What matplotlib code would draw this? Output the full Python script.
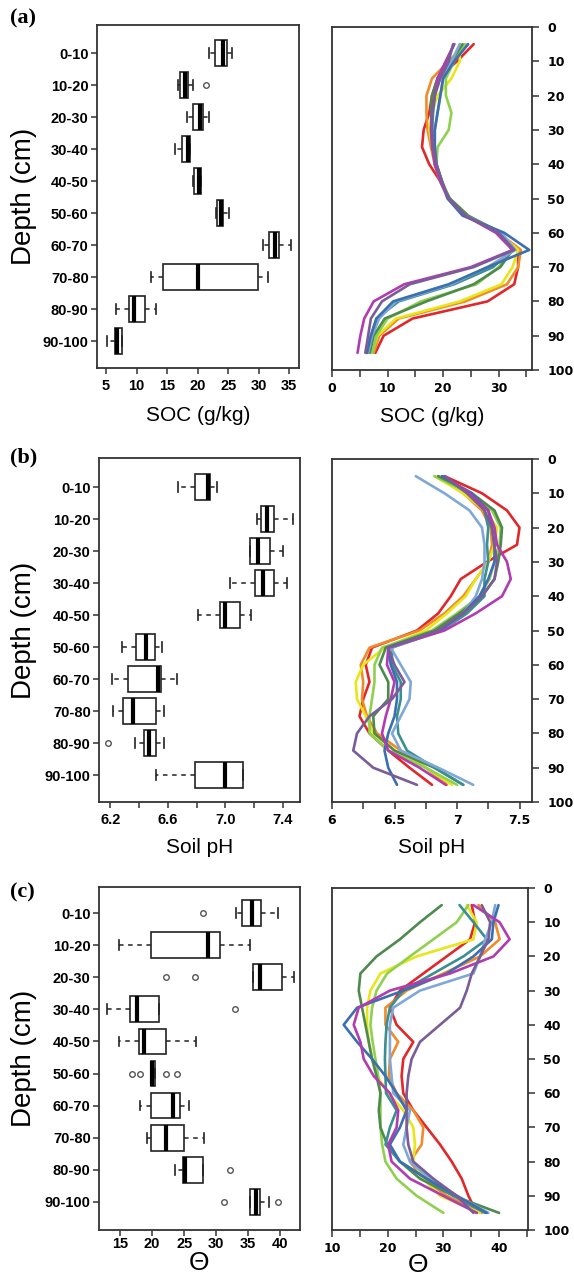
import matplotlib
matplotlib.use("Agg")
import matplotlib.pyplot as plt
import numpy as np

DEPTH_LABELS = ["0-10", "10-20", "20-30", "30-40", "40-50",
                "50-60", "60-70", "70-80", "80-90", "90-100"]

# box plot summaries per depth layer
SOC_Q1 = [22.9, 17.1, 19.2, 17.5, 19.4, 23.2, 31.7, 14.3, 8.8, 6.4]
SOC_MED = [24.1, 17.9, 20.3, 18.4, 20.2, 23.8, 32.6, 20.1, 9.5, 6.7]
SOC_Q3 = [24.8, 18.4, 20.8, 18.8, 20.6, 24.2, 33.4, 29.8, 11.4, 7.6]
SOC_LO = [21.8, 16.8, 18.2, 16.3, 19.2, 23.0, 30.7, 12.4, 6.6, 5.1]
SOC_HI = [25.6, 19.2, 21.8, 18.8, 20.6, 25.2, 35.3, 31.5, 13.2, 7.6]
SOC_OUT = [[], [21.4], [], [], [], [], [], [], [], []]

PH_Q1 = [6.79, 7.25, 7.17, 7.21, 6.96, 6.38, 6.32, 6.29, 6.43, 6.79]
PH_MED = [6.88, 7.29, 7.23, 7.26, 7.00, 6.45, 6.53, 6.36, 6.47, 7.00]
PH_Q3 = [6.89, 7.34, 7.31, 7.34, 7.10, 6.51, 6.55, 6.52, 6.52, 7.12]
PH_LO = [6.67, 7.22, 7.17, 7.03, 6.81, 6.28, 6.21, 6.22, 6.37, 6.52]
PH_HI = [6.94, 7.47, 7.40, 7.43, 7.18, 6.56, 6.66, 6.57, 6.57, 7.12]
PH_OUT = [[], [], [], [], [], [], [], [], [6.18], []]

TH_Q1 = [34.0, 19.8, 35.8, 16.5, 17.9, 19.8, 19.8, 19.8, 24.9, 35.3]
TH_MED = [35.6, 28.7, 36.9, 17.7, 18.75, 20.0, 23.3, 22.1, 25.2, 36.25]
TH_Q3 = [37.0, 30.6, 40.3, 21.0, 22.2, 20.4, 24.4, 25.0, 27.9, 36.9]
TH_LO = [33.1, 14.9, 35.8, 13.0, 14.9, 19.8, 18.1, 19.2, 23.6, 35.3]
TH_HI = [39.7, 35.3, 42.1, 21.0, 26.9, 20.4, 25.7, 28.1, 27.9, 38.2]
TH_OUT = [[28.0], [], [22.2, 26.7], [33.0], [], [16.8, 18.1, 22.2, 23.9],
          [], [], [32.2], [31.25, 39.7]]

# depth profiles (one list per profile, values at PROFILE_DEPTH)
PROFILE_DEPTH = [5, 10, 15, 20, 25, 30, 35, 40, 45, 50,
                 55, 60, 65, 70, 75, 80, 85, 90, 95]
CURVE_COLORS = ["#e0282a", "#f08a2a", "#e6e619", "#8fd14f", "#4e8a4e",
                "#3a9090", "#7fa8d8", "#3b6fb0", "#b03cb0", "#7a5c98"]

SOC_CURVES = [
    [25.5, 22.5, 19.0, 18.0, 17.5, 16.5, 16.2, 17.5, 19.5, 21.0, 24.0, 30.0, 33.5, 33.5, 32.8, 28.0, 14.5, 9.3, 7.8],
    [24.0, 21.0, 18.0, 17.0, 17.0, 17.2, 17.8, 18.5, 19.5, 21.0, 24.0, 30.0, 34.0, 33.5, 31.5, 24.0, 12.0, 8.5, 7.5],
    [23.0, 23.0, 21.5, 19.0, 18.0, 17.5, 18.0, 18.5, 19.5, 21.0, 24.0, 30.0, 33.5, 32.5, 30.5, 23.0, 11.5, 8.2, 7.2],
    [24.0, 22.0, 20.5, 20.5, 21.5, 21.0, 19.0, 18.8, 19.8, 21.2, 24.5, 30.0, 32.5, 30.0, 26.0, 16.0, 10.0, 8.0, 7.3],
    [23.5, 21.5, 19.0, 18.0, 17.8, 18.0, 18.2, 18.5, 19.5, 21.2, 24.5, 30.5, 32.5, 30.3, 25.5, 17.0, 9.5, 7.5, 6.8],
    [22.0, 20.5, 19.0, 18.5, 18.2, 18.0, 18.2, 18.6, 19.5, 21.0, 24.0, 30.5, 32.4, 29.0, 22.0, 12.0, 8.0, 7.0, 6.2],
    [23.0, 21.5, 20.0, 19.5, 19.0, 18.5, 18.5, 18.8, 19.5, 20.8, 24.0, 30.5, 33.0, 28.0, 21.5, 11.5, 8.5, 7.2, 6.5],
    [24.5, 22.0, 20.0, 19.5, 19.0, 18.5, 18.5, 18.8, 19.8, 20.8, 23.5, 31.0, 35.5, 28.0, 21.0, 11.0, 8.0, 7.0, 6.3],
    [22.0, 20.5, 19.0, 18.5, 18.0, 17.8, 18.0, 18.5, 19.5, 21.0, 24.0, 29.5, 32.5, 25.0, 13.0, 7.5, 5.8, 5.1, 4.6],
    [21.8, 21.0, 19.5, 18.5, 18.0, 18.0, 18.2, 18.8, 19.8, 21.0, 24.0, 30.0, 32.8, 25.5, 14.0, 9.0, 7.0, 6.5, 6.0],
]

PH_CURVES = [
    [6.90, 7.20, 7.40, 7.50, 7.48, 7.24, 7.03, 6.95, 6.85, 6.68, 6.32, 6.27, 6.30, 6.25, 6.22, 6.30, 6.45, 6.62, 6.80],
    [6.85, 7.05, 7.20, 7.27, 7.28, 7.25, 7.15, 7.05, 6.90, 6.70, 6.30, 6.23, 6.25, 6.24, 6.28, 6.36, 6.55, 6.75, 6.92],
    [6.82, 7.05, 7.22, 7.32, 7.30, 7.25, 7.15, 7.07, 6.92, 6.75, 6.42, 6.25, 6.19, 6.20, 6.27, 6.33, 6.50, 6.75, 6.96],
    [6.82, 7.10, 7.28, 7.35, 7.34, 7.30, 7.26, 7.18, 7.00, 6.80, 6.40, 6.34, 6.34, 6.32, 6.30, 6.30, 6.45, 6.75, 7.00],
    [6.85, 7.12, 7.30, 7.36, 7.35, 7.33, 7.30, 7.20, 7.02, 6.82, 6.43, 6.38, 6.45, 6.45, 6.33, 6.34, 6.50, 6.82, 7.05],
    [6.88, 7.10, 7.22, 7.25, 7.24, 7.25, 7.22, 7.22, 7.08, 6.88, 6.48, 6.48, 6.55, 6.55, 6.52, 6.53, 6.60, 6.82, 7.05],
    [6.67, 6.90, 7.10, 7.20, 7.22, 7.22, 7.20, 7.15, 7.05, 6.88, 6.47, 6.55, 6.63, 6.62, 6.55, 6.48, 6.55, 6.85, 7.13],
    [6.88, 7.12, 7.25, 7.28, 7.30, 7.30, 7.25, 7.18, 7.05, 6.87, 6.45, 6.47, 6.52, 6.52, 6.50, 6.45, 6.42, 6.45, 6.52],
    [6.90, 7.10, 7.25, 7.30, 7.32, 7.40, 7.43, 7.36, 7.15, 6.90, 6.45, 6.44, 6.50, 6.47, 6.43, 6.40, 6.45, 6.70, 6.91],
    [6.90, 7.08, 7.22, 7.28, 7.30, 7.32, 7.30, 7.20, 7.05, 6.85, 6.45, 6.50, 6.58, 6.48, 6.30, 6.20, 6.17, 6.33, 6.68],
]

TH_CURVES = [
    [35.1, 35.7, 34.8, 30.6, 26.4, 22.2, 20.4, 21.6, 24.6, 22.8, 22.5, 22.8, 24.6, 27.0, 29.4, 31.5, 33.3, 34.5, 36.0],
    [36.3, 39.3, 40.1, 36.6, 30.0, 23.4, 19.6, 19.6, 21.9, 20.4, 20.2, 21.6, 24.6, 26.4, 26.1, 24.0, 26.4, 30.6, 36.9],
    [34.2, 36.0, 35.4, 25.2, 18.7, 16.9, 16.3, 16.3, 16.6, 17.2, 18.1, 20.1, 22.8, 24.6, 24.9, 24.6, 26.4, 29.4, 36.6],
    [34.5, 32.4, 28.2, 24.0, 19.9, 18.0, 17.2, 16.9, 17.3, 17.8, 18.3, 18.7, 18.7, 18.7, 19.0, 19.6, 21.6, 25.2, 30.0],
    [29.7, 25.8, 22.2, 18.0, 15.1, 14.8, 15.4, 16.0, 16.6, 17.2, 18.0, 18.7, 18.4, 18.7, 19.9, 22.2, 25.8, 31.8, 40.0],
    [32.9, 35.4, 37.8, 33.6, 28.2, 22.8, 20.4, 19.8, 19.6, 19.5, 19.6, 19.7, 21.6, 20.4, 19.6, 22.2, 27.0, 31.8, 37.5],
    [39.3, 38.7, 37.5, 36.6, 35.4, 25.8, 21.0, 20.4, 20.4, 20.4, 20.7, 21.0, 24.0, 23.4, 22.8, 24.0, 27.6, 32.4, 38.1],
    [39.9, 39.0, 38.7, 35.4, 30.6, 22.8, 14.5, 12.1, 14.5, 17.2, 19.6, 21.6, 23.4, 22.2, 20.4, 22.2, 27.0, 32.4, 37.8],
    [35.4, 40.1, 41.9, 39.0, 31.2, 20.4, 14.8, 13.9, 15.1, 15.7, 17.5, 20.4, 21.9, 21.6, 20.1, 20.7, 24.0, 30.0, 36.0],
    [36.9, 38.4, 38.1, 36.6, 35.1, 34.2, 33.0, 29.4, 25.8, 24.3, 23.7, 23.4, 23.4, 23.4, 23.7, 24.6, 28.2, 32.4, 35.4],
]

W, H = 574, 1287
EDGE = "#333333"
SANS = "Liberation Sans"


def rect(x0, y0, x1, y1):
    # pixel box -> figure fraction
    return [x0 / W, 1 - y1 / H, (x1 - x0) / W, (y1 - y0) / H]


def style_spines(ax):
    for s in ax.spines.values():
        s.set_color(EDGE)
        s.set_linewidth(1.3)


def box_panel(ax, q1, med, q3, lo, hi, out, xlim, ylim, major, minor, fmt,
              xlabel, xlabel_size, xpad=4, labelpad=8):
    stats = []
    for i in range(len(DEPTH_LABELS)):
        stats.append(dict(q1=q1[i], med=med[i], q3=q3[i], whislo=lo[i],
                          whishi=hi[i], fliers=out[i]))
    pos = np.arange(1, len(DEPTH_LABELS) + 1)
    ax.bxp(stats, positions=pos, orientation="horizontal", widths=0.8,
           capwidths=0.3, patch_artist=True,
           boxprops=dict(facecolor="white", edgecolor="#222222", linewidth=1.2),
           medianprops=dict(color="black", linewidth=3.0),
           whiskerprops=dict(color="#222222", linewidth=1.1, linestyle=(0, (3, 3))),
           capprops=dict(color="#222222", linewidth=1.2),
           flierprops=dict(marker="o", markersize=4, markerfacecolor="none",
                           markeredgecolor="#555555", markeredgewidth=1.0))
    ax.set_xlim(*xlim)
    ax.set_ylim(*ylim)
    ax.set_yticks(pos, DEPTH_LABELS)
    ax.set_xticks(minor, minor=True)
    ax.set_xticks(major, [fmt(v) for v in major])
    ax.tick_params(axis="both", which="both", direction="out", length=4,
                   width=1.1, color=EDGE)
    for lab in ax.get_xticklabels() + ax.get_yticklabels():
        lab.set_fontfamily(SANS)
        lab.set_fontweight("bold")
        lab.set_fontsize(10.5)
    ax.tick_params(axis="y", pad=2)
    ax.tick_params(axis="x", pad=xpad)
    ax.set_xlabel(xlabel, fontfamily=SANS, fontsize=xlabel_size, labelpad=labelpad)
    style_spines(ax)


def profile_panel(ax, curves, xlim, major, minor, fmt, xlabel, xlabel_size, labelpad=8):
    for vals, c in zip(curves, CURVE_COLORS):
        ax.plot(vals, PROFILE_DEPTH, color=c, linewidth=1.9,
                solid_capstyle="round", solid_joinstyle="round")
    ax.set_xlim(*xlim)
    ax.set_ylim(100, 0)
    ax.yaxis.tick_right()
    ax.set_yticks(np.arange(0, 101, 10))
    ax.set_xticks(minor, minor=True)
    ax.set_xticks(major, [fmt(v) for v in major])
    ax.tick_params(axis="both", which="both", direction="out", length=5,
                   width=1.1, color=EDGE, labelsize=9)
    ax.tick_params(axis="y", pad=6)
    for lab in ax.get_xticklabels() + ax.get_yticklabels():
        lab.set_fontfamily("DejaVu Sans")
        lab.set_fontweight("bold")
    ax.set_xlabel(xlabel, fontfamily=SANS, fontsize=xlabel_size, labelpad=labelpad)
    style_spines(ax)


fig = plt.figure(figsize=(W / 100, H / 100), dpi=100)

ax_a1 = fig.add_axes(rect(97, 25, 299, 368))
ax_a2 = fig.add_axes(rect(332, 27, 532, 370))
ax_b1 = fig.add_axes(rect(99, 458, 300, 802))
ax_b2 = fig.add_axes(rect(332, 459, 532, 802))
ax_c1 = fig.add_axes(rect(99, 887, 300, 1230))
ax_c2 = fig.add_axes(rect(332, 888, 528, 1230))

box_panel(ax_a1, SOC_Q1, SOC_MED, SOC_Q3, SOC_LO, SOC_HI, SOC_OUT,
          (3.5, 36.6), (10.84, 0.125), np.arange(5, 36, 5), [],
          lambda v: f"{v:g}", "SOC (g/kg)", 15, labelpad=9)
box_panel(ax_b1, PH_Q1, PH_MED, PH_Q3, PH_LO, PH_HI, PH_OUT,
          (6.12, 7.52), (10.84, 0.094), [6.2, 6.6, 7.0, 7.4], [6.4, 6.8, 7.2],
          lambda v: f"{v:.1f}", "Soil pH", 15)
box_panel(ax_c1, TH_Q1, TH_MED, TH_Q3, TH_LO, TH_HI, TH_OUT,
          (11.7, 43.1), (10.875, 0.19), np.arange(15, 41, 5), [],
          lambda v: f"{v:g}", "\u0398", 19, xpad=1, labelpad=0)

profile_panel(ax_a2, SOC_CURVES, (0, 36), [0, 10, 20, 30], [5, 15, 25, 35],
              lambda v: f"{v:g}", "SOC (g/kg)", 15, labelpad=9)
profile_panel(ax_b2, PH_CURVES, (6, 7.6), [6, 6.5, 7, 7.5], [6.25, 6.75, 7.25],
              lambda v: f"{v:g}", "Soil pH", 15)
profile_panel(ax_c2, TH_CURVES, (10, 45.2), [10, 20, 30, 40], [15, 25, 35, 45],
              lambda v: f"{v:g}", "\u0398", 19, labelpad=-1)
ax_c2.xaxis.label.set_x(0.44)

# panel letters and shared depth labels
for letter, y_letter, ax in [("(a)", 18, ax_a1), ("(b)", 457, ax_b1), ("(c)", 892, ax_c1)]:
    fig.text(10 / W, 1 - y_letter / H, letter, fontfamily="Liberation Serif",
             fontweight="bold", fontsize=16, va="center", ha="left")
    bb = ax.get_position()
    fig.text(24 / W, bb.y0 + bb.height / 2, "Depth (cm)", rotation=90,
             fontfamily=SANS, fontsize=20, va="center", ha="center")

fig.savefig("out.png", dpi=100)
